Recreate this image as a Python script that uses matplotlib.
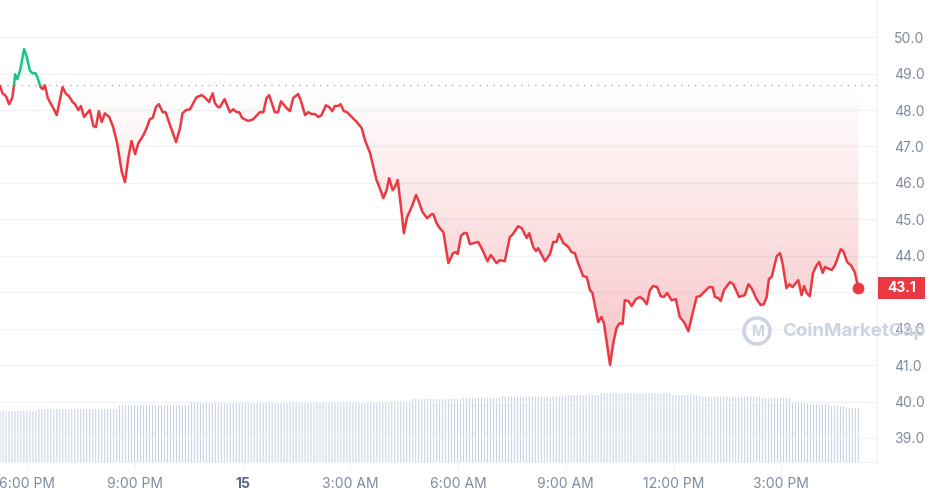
import numpy as np
import matplotlib
matplotlib.use("Agg")
import matplotlib.pyplot as plt
from matplotlib.patches import Circle, FancyBboxPatch
from matplotlib.colors import to_rgb
from matplotlib.path import Path

plt.rcParams['font.family'] = ['Inter', 'DejaVu Sans']

# ---- data: hours relative to 6:00 PM, price ----
hours = [-0.75, -0.68, -0.61, -0.57, -0.50, -0.41, -0.36, -0.33, -0.27, -0.19, -0.08, -0.01, 0.08, 0.15, 0.24,
         0.29, 0.38, 0.44, 0.50, 0.58, 0.69, 0.75, 0.83, 0.99, 1.09, 1.17, 1.27, 1.34, 1.43, 1.50, 1.59, 1.75,
         1.85, 1.92, 2.00, 2.08, 2.17, 2.29, 2.40, 2.51, 2.64, 2.73, 2.82, 2.91, 3.01, 3.10, 3.24, 3.33, 3.42,
         3.50, 3.59, 3.67, 3.78, 3.86, 3.98, 4.15, 4.26, 4.33, 4.43, 4.54, 4.63, 4.72, 4.86, 4.95, 5.07, 5.17,
         5.23, 5.32, 5.37, 5.50, 5.65, 5.74, 5.84, 5.91, 5.99, 6.16, 6.30, 6.48, 6.58, 6.67, 6.74, 6.90, 6.99,
         7.07, 7.23, 7.32, 7.41, 7.55, 7.63, 7.74, 7.83, 7.92, 8.02, 8.11, 8.20, 8.32, 8.41, 8.50, 8.57, 8.66,
         8.73, 8.82, 8.91, 9.04, 9.18, 9.32, 9.41, 9.55, 9.73, 9.82, 9.92, 10.01, 10.08, 10.18, 10.24, 10.32,
         10.41, 10.49, 10.58, 10.71, 10.83, 10.89, 11.01, 11.14, 11.26, 11.31, 11.40, 11.49, 11.59, 11.73,
         11.86, 11.94, 11.99, 12.08, 12.16, 12.24, 12.33, 12.56, 12.68, 12.82, 12.91, 13.07, 13.16, 13.30,
         13.44, 13.53, 13.67, 13.77, 13.91, 13.98, 14.09, 14.17, 14.23, 14.42, 14.56, 14.65, 14.74, 14.81,
         14.93, 15.07, 15.16, 15.25, 15.34, 15.48, 15.58, 15.67, 15.74, 15.90, 15.99, 16.06, 16.23, 16.32,
         16.41, 16.50, 16.58, 16.64, 16.74, 16.83, 16.95, 17.06, 17.15, 17.25, 17.34, 17.43, 17.54, 17.64,
         17.73, 17.82, 17.94, 18.06, 18.17, 18.29, 18.41, 18.53, 18.64, 18.73, 18.84, 18.99, 19.08, 19.15,
         19.24, 19.31, 19.40, 19.57, 19.66, 19.82, 19.98, 20.08, 20.17, 20.31, 20.42, 20.51, 20.59, 20.65,
         20.73, 20.87, 20.96, 21.03, 21.14, 21.22, 21.31, 21.40, 21.47, 21.56, 21.63, 21.70, 21.79, 21.88,
         21.98, 22.05, 22.15, 22.21, 22.40, 22.49, 22.65, 22.72, 22.83, 22.95, 23.04, 23.14]
prices = [48.66, 48.46, 48.41, 48.35, 48.16, 48.33, 48.68, 48.98, 48.85, 49.09, 49.67, 49.48, 49.09, 49.01, 49.01,
          48.90, 48.63, 48.57, 48.68, 48.33, 48.13, 48.02, 47.86, 48.63, 48.44, 48.38, 48.22, 48.16, 48.00, 48.11,
          47.81, 48.00, 47.56, 47.53, 47.97, 47.67, 47.91, 47.81, 47.53, 47.09, 46.30, 46.02, 46.68, 47.15, 46.79,
          47.09, 47.31, 47.50, 47.75, 47.78, 48.08, 48.16, 47.94, 47.94, 47.59, 47.12, 47.50, 47.91, 48.00, 48.02,
          48.19, 48.35, 48.41, 48.35, 48.22, 48.46, 48.19, 48.08, 48.08, 48.30, 47.94, 48.02, 47.94, 47.94, 47.78,
          47.70, 47.75, 47.94, 47.94, 48.33, 48.41, 47.94, 47.94, 48.24, 48.05, 47.97, 48.33, 48.44, 48.24, 47.86,
          47.94, 47.89, 47.89, 47.81, 47.86, 48.13, 48.08, 47.97, 48.11, 48.11, 48.16, 47.97, 47.94, 47.81, 47.67,
          47.50, 47.17, 46.82, 46.08, 45.86, 45.58, 45.80, 46.13, 45.80, 45.88, 46.08, 45.34, 44.62, 45.06, 45.34,
          45.67, 45.53, 45.20, 45.03, 45.14, 45.14, 44.90, 44.76, 44.65, 43.80, 44.07, 44.10, 44.05, 44.54, 44.62,
          44.62, 44.32, 44.38, 44.16, 43.85, 44.02, 43.80, 43.88, 43.85, 44.51, 44.60, 44.81, 44.76, 44.49, 44.62,
          44.24, 44.13, 44.21, 43.85, 44.05, 44.38, 44.38, 44.60, 44.35, 44.24, 44.10, 44.07, 43.80, 43.44, 43.42,
          43.06, 42.98, 42.18, 42.32, 42.15, 41.00, 41.61, 42.02, 42.15, 42.13, 42.78, 42.76, 42.62, 42.81, 42.87,
          42.81, 42.67, 43.06, 43.17, 43.14, 42.89, 42.87, 42.98, 42.78, 42.81, 42.32, 42.18, 41.93, 42.43, 42.87,
          42.89, 43.00, 43.14, 43.14, 42.87, 42.84, 42.76, 43.06, 43.28, 43.22, 42.87, 42.92, 43.22, 43.11, 42.81,
          42.65, 42.67, 42.87, 43.36, 43.42, 43.99, 44.07, 43.80, 43.11, 43.22, 43.14, 43.25, 43.33, 42.92, 43.17,
          42.98, 42.89, 43.53, 43.74, 43.83, 43.53, 43.69, 43.61, 43.74, 44.18, 44.13, 43.83, 43.72, 43.55, 43.11]
baseline = 48.68

# volume (24h rolling, millions) as constant runs of 5-minute bars
volume_levels = [51, 53, 57, 59, 60, 61, 63, 64, 65.5, 67, 69, 67, 65.5, 64, 60, 58, 56, 54]
volume_runs = [13, 27, 24, 47, 20, 7, 17, 13, 20, 13, 24, 10, 20, 10, 5, 8, 5, 5]

tick_hours = [0, 3, 6, 9, 12, 15, 18, 21]
tick_labels = ["6:00 PM", "9:00 PM", "15", "3:00 AM", "6:00 AM", "9:00 AM", "12:00 PM", "3:00 PM"]
y_ticks = [39.0, 40.0, 41.0, 42.0, 43.0, 44.0, 45.0, 46.0, 47.0, 48.0, 49.0, 50.0]

RED = "#ea3943"
GREEN = "#16c784"
GRID = "#eff2f5"
LABEL = "#808a9d"

h = np.array(hours)
p = np.array(prices)

fig = plt.figure(figsize=(9.28, 4.95), dpi=100)
ax = fig.add_axes([0.0, 33 / 495, 877 / 928, 462 / 495])
xmin, xmax = -0.75, 23.66
ymin, ymax = 38.34, 51.02
ax.set_xlim(xmin, xmax)
ax.set_ylim(ymin, ymax)

# volume bars on a twin axis
axv = ax.twinx()
vols = np.repeat(volume_levels, volume_runs)
vh = np.linspace(h[0], h[-1], len(vols))
axv.vlines(vh, 0, vols, color="#c9d2e2", lw=0.75, antialiased=True, snap=False, zorder=1)
axv.set_ylim(0, max(volume_levels) / 0.149)
axv.set_xlim(xmin, xmax)
axv.axis("off")
ax.set_zorder(axv.get_zorder() + 1)
ax.patch.set_visible(False)

# grid
for yt in y_ticks:
    ax.axhline(yt, color=GRID, lw=0.9, zorder=0)

# baseline dotted
ax.axhline(baseline, color="#a6b0c3", lw=1.0, ls=(0, (1, 4)), zorder=2)

# insert crossing points
hh, pp = [h[0]], [p[0]]
for i in range(1, len(h)):
    if (p[i - 1] - baseline) * (p[i] - baseline) < 0:
        t = (baseline - p[i - 1]) / (p[i] - p[i - 1])
        hh.append(h[i - 1] + t * (h[i] - h[i - 1]))
        pp.append(baseline)
    hh.append(h[i]); pp.append(p[i])
hh = np.array(hh); pp = np.array(pp)

# gradient fills
def grad_fill(where, color, a_base, a_far, y_far):
    poly = ax.fill_between(hh, pp, baseline, where=where, interpolate=True,
                           color="none", linewidth=0)
    n = 256
    if y_far < baseline:
        yy = np.linspace(y_far, baseline, n)
        alpha = a_far + (a_base - a_far) * (yy - y_far) / (baseline - y_far)
        extent = [xmin, xmax, y_far, baseline]
    else:
        yy = np.linspace(baseline, y_far, n)
        alpha = a_base + (a_far - a_base) * (yy - baseline) / (y_far - baseline)
        extent = [xmin, xmax, baseline, y_far]
    img = np.zeros((n, 1, 4))
    img[:, 0, :3] = to_rgb(color)
    img[:, 0, 3] = alpha
    im = ax.imshow(img, extent=extent, origin="lower", aspect="auto", zorder=2)
    paths = poly.get_paths()
    if paths:
        comp = Path.make_compound_path(*paths)
        im.set_clip_path(comp, transform=ax.transData)

grad_fill(pp <= baseline, RED, 0.0, 0.30, 41.0)
grad_fill(pp >= baseline, GREEN, 0.0, 0.14, 49.7)
ax.set_xlim(xmin, xmax)
ax.set_ylim(ymin, ymax)

# line colored by baseline
ax.plot(hh, np.where(pp <= baseline + 1e-9, pp, np.nan), color=RED, lw=1.8, zorder=4,
        solid_capstyle="round", solid_joinstyle="round")
ax.plot(hh, np.where(pp >= baseline - 1e-9, pp, np.nan), color=GREEN, lw=1.8, zorder=4,
        solid_capstyle="round", solid_joinstyle="round")
ax.plot([h[-1]], [p[-1]], "o", color=RED, ms=7.5, zorder=5)

# axes styling
for s in ["top", "left"]:
    ax.spines[s].set_visible(False)
ax.spines["right"].set_color("#eff2f5")
ax.spines["bottom"].set_color("#eff2f5")
ax.yaxis.tick_right()
ax.set_yticks(y_ticks)
# the 43.0 label sits behind the current-price tag in the reference
ax.set_yticklabels(["" if v == 43.0 else f"{v:.1f}" for v in y_ticks])
ax.tick_params(axis="y", length=0, pad=12, labelsize=10, labelcolor=LABEL)
ax.set_xticks(tick_hours)
ax.set_xticklabels(tick_labels)
ax.tick_params(axis="x", length=5, color="#eff2f5", pad=6, labelsize=10, labelcolor=LABEL)
for lab in ax.get_xticklabels():
    if lab.get_text() == "15":
        lab.set_fontweight("bold")
        lab.set_color("#58667e")

# current price label
lab_y = p[-1]
fig_y = (33 + 462 * (lab_y - ymin) / (ymax - ymin)) / 495
box = FancyBboxPatch((878 / 928, fig_y - 11 / 495), 47 / 928, 22 / 495,
                     boxstyle="square,pad=0", transform=fig.transFigure,
                     facecolor=RED, edgecolor="none")
fig.patches.append(box)
fig.text(901.5 / 928, fig_y, f"{p[-1]:.1f}", color="white", fontsize=10, fontweight="bold",
         ha="center", va="center")

# watermark
wm_color = "#ccd4e2"
fig.text(782 / 928, 164 / 495, "CoinMarketCap", color=wm_color, fontsize=13.5,
         fontweight="bold", ha="left", va="center", zorder=10)
circ = Circle((757 / 928 * 9.28, 164 / 495 * 4.95), 0.13, transform=fig.dpi_scale_trans,
              fill=False, edgecolor=wm_color, lw=2.6, zorder=10)
fig.patches.append(circ)
fig.text(757.5 / 928, 163 / 495, "M", color=wm_color, fontsize=10, fontweight="bold",
         ha="center", va="center", zorder=10)

fig.savefig("out.png", dpi=100)
